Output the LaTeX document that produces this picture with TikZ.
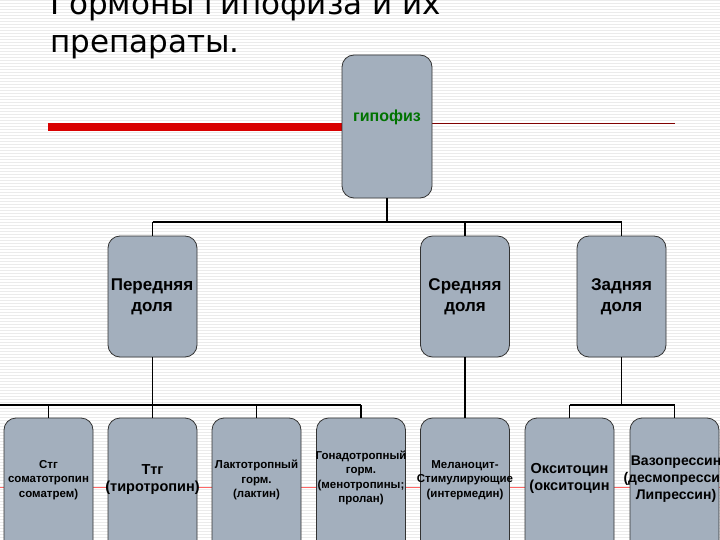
\documentclass[tikz,border=0pt]{standalone}
\usepackage{fontspec}
\setmainfont{Liberation Sans}
\newfontfamily\titlefont{DejaVu Sans}
\begin{document}
\begin{tikzpicture}[x=1pt,y=-1pt,
  box/.style={draw=black!80,line width=0.8pt,fill=boxc,rounded corners=12pt,inner sep=0pt},
  lbl/.style={font=\bfseries\fontsize{11.5}{14.5}\selectfont,align=center,inner sep=0pt},
  big/.style={font=\bfseries\fontsize{14.5}{17}\selectfont,align=center,inner sep=0pt},
  conn/.style={line width=1.2pt,black}]
\definecolor{boxc}{HTML}{A3AFBD}
\useasboundingbox (0,0) rectangle (720,540);
\clip (0,0) rectangle (720,540);
\fill[white] (0,0) rectangle (720,540);
\foreach \i in {0,3,...,540} \draw[black!8,line width=0.6pt] (0,\i) -- (720,\i);
% title
\node[anchor=west,inner sep=0pt,font=\titlefont\fontsize{31}{36}\selectfont] (t1) at (50,6) {Гормоны гипофиза и их};
\node[anchor=west,inner sep=0pt,font=\titlefont\fontsize{31}{36}\selectfont] (t2) at (50,47) {препараты.};
% red lines
\fill[red!85!black] (48,123) rectangle (342,131);
\draw[red!50!black,line width=0.6pt] (342,123) -- (675,123);
\draw[red!60,line width=0.6pt] (0,487) -- (720,487);
% top
\node[box,minimum width=90pt,minimum height=143pt] (g) at (387,126.5) {};
\node[font=\bfseries\fontsize{16}{18}\selectfont,text=green!45!black,inner sep=0pt] (gt) at (387,117) {гипофиз};
% middle
\foreach \n/\x in {p/152.5,s/465,z/621.5}
  \node[box,minimum width=89pt,minimum height=121pt] (\n) at (\x,296.5) {};
\node[big,font=\bfseries\fontsize{17}{21}\selectfont] at (152,297) {Передняя\\доля};
\node[big,font=\bfseries\fontsize{17}{21}\selectfont] at (465,297) {Средняя\\доля};
\node[big,font=\bfseries\fontsize{17}{21}\selectfont] at (621.5,297) {Задняя\\доля};
% bottom
\foreach \n/\x in {b1/48.5,b2/152.5,b3/256.5,b4/361,b5/465,b6/569.5,b7/674.5}
  \node[box,minimum width=89pt,minimum height=140pt] (\n) at (\x,488) {};
\node[lbl] at (48.5,480) {Стг\\соматотропин\\соматрем)};
\node[big] at (152.5,479.5) {Ттг\\(тиротропин)};
\node[lbl] at (256.5,480) {Лактотропный\\горм.\\(лактин)};
\node[lbl] at (361,478) {Гонадотропный\\горм.\\(менотропины;\\пролан)};
\node[lbl] at (465,480) {Меланоцит-\\Стимулирующие\\(интермедин)};
\node[big] at (569.5,478.5) {Окситоцин\\(окситоцин};
\node[big,font=\bfseries\fontsize{14}{17}\selectfont] at (676,479) {Вазопрессин\\(десмопрессин\\Липрессин)};
% connectors
\coordinate (h1) at (387,222);
\draw[conn] (g.south) -- (h1);
\draw[conn] (p.north |- h1) -- (z.north |- h1);
\draw[conn] (p.north |- h1) -- (p.north);
\draw[conn] (s.north |- h1) -- (s.north);
\draw[conn] (z.north |- h1) -- (z.north);
\coordinate (h2) at (0,405);
\draw[conn] (p.south) -- (p.south |- h2);
\draw[conn] (h2) -- (b4.north |- h2);
\foreach \b in {b1,b2,b3,b4} \draw[conn] (\b.north |- h2) -- (\b.north);
\draw[conn] (s.south) -- (b5.north);
\draw[conn] (z.south) -- (z.south |- h2);
\draw[conn] (b6.north |- h2) -- (b7.north |- h2);
\draw[conn] (b6.north |- h2) -- (b6.north);
\draw[conn] (b7.north |- h2) -- (b7.north);
\end{tikzpicture}
\end{document}
